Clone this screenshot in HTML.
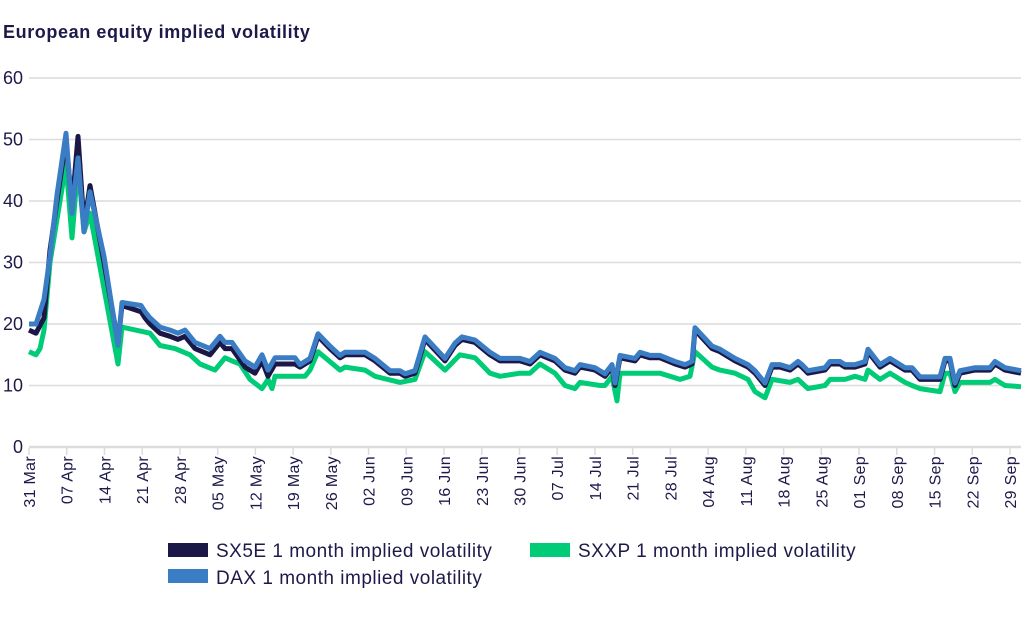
<!DOCTYPE html>
<html><head><meta charset="utf-8"><style>
body{margin:0;background:#fff;width:1024px;height:616px;overflow:hidden;font-family:"Liberation Sans",sans-serif;}
</style></head><body>
<svg id="s" width="1024" height="616" xmlns="http://www.w3.org/2000/svg" font-family="Liberation Sans, sans-serif">
<text x="3" y="38" font-size="18" font-weight="bold" letter-spacing="0.6" fill="#1d1a4a">European equity implied volatility</text>
<g id="grid"></g>
<g id="lines" fill="none" stroke-width="5" stroke-linejoin="round"></g>
<rect x="168" y="543" width="40" height="14" fill="#1b1747"/>
<text x="216" y="557" font-size="19" letter-spacing="0.5" fill="#1d1a4a">SX5E 1 month implied volatility</text>
<rect x="530" y="543" width="40" height="14" fill="#00cc77"/>
<text x="578" y="557" font-size="19" letter-spacing="0.5" fill="#1d1a4a">SXXP 1 month implied volatility</text>
<rect x="168" y="569" width="40" height="14" fill="#3a7dc4"/>
<text x="216" y="584" font-size="19" letter-spacing="0.5" fill="#1d1a4a">DAX 1 month implied volatility</text>
</svg>
<script>
function y(v){return 447-6.15*v;}
var g=document.getElementById('grid'),h='';
for(var i=0;i<=6;i++){var yy=y(i*10);h+='<line x1="29" x2="1021" y1="'+yy+'" y2="'+yy+'" stroke="#dcdcdc" stroke-width="'+(i==0?2.5:1.5)+'"/><text x="23" y="'+(yy+6)+'" font-size="18" text-anchor="end" fill="#1d1a4a">'+(i*10)+'</text>';}
var labs=["31 Mar","07 Apr","14 Apr","21 Apr","28 Apr","05 May","12 May","19 May","26 May","02 Jun","09 Jun","16 Jun","23 Jun","30 Jun","07 Jul","14 Jul","21 Jul","28 Jul","04 Aug","11 Aug","18 Aug","25 Aug","01 Sep","08 Sep","15 Sep","22 Sep","29 Sep"];
for(var i=0;i<labs.length;i++){var x=29+37.73*i;h+='<line x1="'+x+'" x2="'+x+'" y1="448" y2="455" stroke="#dcdcdc" stroke-width="1.5"/><text transform="translate('+(x+6)+',456) rotate(-90)" font-size="16" letter-spacing="0.3" text-anchor="end" fill="#1d1a4a">'+labs[i]+'</text>';}
g.innerHTML=h;
var sx=[[29,19],[36,18.5],[44,21],[50,32],[57,40],[66,50],[72,39],[78,50.5],[84,36],[90,42.5],[104,30],[118,17],[122,23],[141,22],[145,21],[150,20],[160,18.5],[170,18],[178,17.5],[185,18],[195,16],[210,15],[220,17],[225,16],[232,16],[245,13],[255,12],[262,14],[268,11.5],[275,13.5],[295,13.5],[300,13],[310,14],[318,18],[330,16],[340,14.5],[345,15],[365,15],[375,14],[390,12],[400,12],[405,11.5],[415,12],[425,17.5],[445,14],[455,16.5],[462,17.5],[475,17],[490,15],[500,14],[520,14],[530,13.5],[540,15],[555,14],[565,12.5],[575,12],[580,13],[595,12.5],[605,11.5],[612,13],[615,10],[620,14.5],[635,14],[640,15],[650,14.5],[660,14.5],[675,13.5],[685,13],[692,13.5],[695,19],[712,16],[720,15.5],[735,14],[748,13],[755,12],[765,10],[772,13],[780,13],[790,12.5],[798,13.5],[802,13],[808,12],[825,12.5],[830,13.5],[840,13.5],[845,13],[855,13],[865,13.5],[868,15.5],[880,13],[890,14],[905,12.5],[912,12.5],[920,11],[940,11],[945,14],[950,14],[955,10],[960,12],[975,12.5],[990,12.5],[995,13.5],[1005,12.5],[1021,12]];
var dax=sx.map(function(p){var o=p[0]<300?1:0.4;return [p[0],p[1]+o];});
var ov={66:51,72:38,78:47,84:35,90:41.5,118:16.5,122:23.5,29:20,36:20,44:24,50:31};
dax=dax.map(function(p){return ov[p[0]]!==undefined?[p[0],ov[p[0]]]:p;});
var sp=[[29,15.5],[36,15],[40,16],[44,19],[50,30],[66,46],[72,34],[78,46],[84,35],[90,38],[118,13.5],[122,19.5],[150,18.5],[160,16.5],[175,16],[190,15],[200,13.5],[215,12.5],[225,14.5],[232,14],[240,13.5],[250,11],[262,9.5],[268,11],[272,9.5],[275,11.5],[305,11.5],[310,12.5],[318,15.5],[340,12.5],[345,13],[365,12.5],[375,11.5],[400,10.5],[415,11],[425,15.5],[435,14],[445,12.5],[460,15],[475,14.5],[490,12],[500,11.5],[520,12],[530,12],[540,13.5],[555,12],[565,10],[575,9.5],[580,10.5],[600,10],[605,10],[612,11.5],[617,7.5],[620,12],[660,12],[680,11],[690,11.5],[695,15.5],[712,13],[720,12.5],[735,12],[748,11],[755,9],[765,8],[772,11],[790,10.5],[798,11],[808,9.5],[825,10],[830,11],[845,11],[855,11.5],[865,11],[868,12.5],[880,11],[890,12],[905,10.5],[912,10],[920,9.5],[940,9],[945,12],[950,12],[955,9],[960,10.5],[990,10.5],[995,11],[1005,10],[1021,9.8]];
function pl(d,c){return '<polyline stroke="'+c+'" points="'+d.map(function(p){return p[0]+','+y(p[1]).toFixed(1);}).join(' ')+'"/>';}
document.getElementById('lines').innerHTML=pl(sp,'#00cc77')+pl(sx,'#1b1747')+pl(dax,'#3a7dc4');
</script>
</body></html>
